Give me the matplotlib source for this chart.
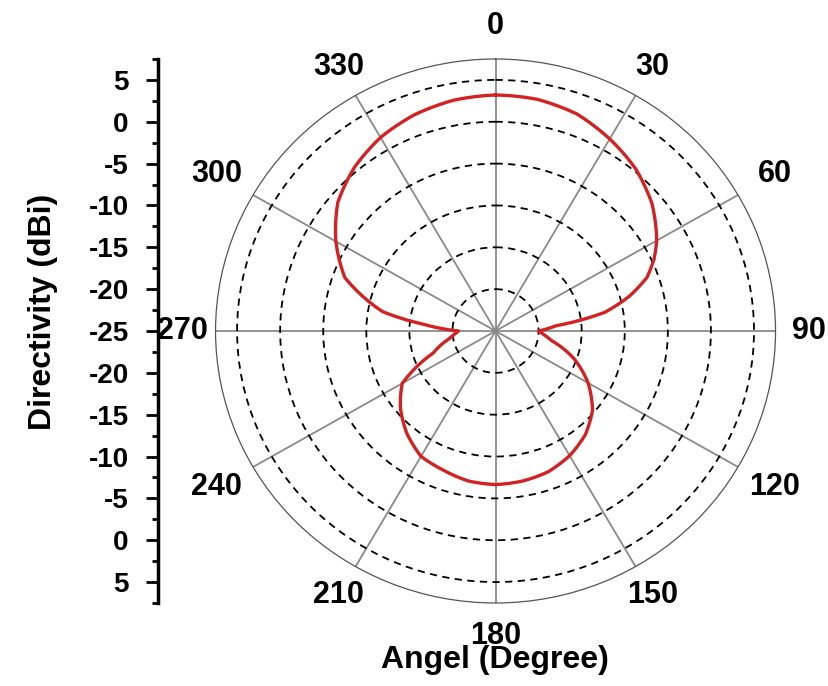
import numpy as np
import matplotlib
matplotlib.use("Agg")
import matplotlib.pyplot as plt
from matplotlib.ticker import FixedLocator, MultipleLocator

# Directivity pattern (angle in degrees, value in dBi).
angles = [0, 10, 20, 30, 40, 50, 60, 65, 70, 75, 80, 85, 90, 95, 100, 110,
          120, 130, 140, 150, 160, 170, 180, 190, 200, 210, 220, 230, 240,
          250, 260, 265, 270, 275, 280, 290, 300, 310, 320, 330, 340, 350, 360]
directivity = [3.2, 3.1, 2.6, 1.5, 0.3, -1.3, -3.4, -4.7, -6.3, -8.9, -12.1,
               -18.0, -20.0, -19.3, -18.4, -15.3, -12.6, -10.3, -8.8, -7.8,
               -7.1, -6.8, -6.65, -6.8, -7.3, -7.7, -9.0, -10.6, -12.5, -17.3,
               -19.5, -20.2, -20.7, -17.0, -11.7, -6.4, -3.6, -1.1, 0.5, 1.7,
               2.5, 3.0, 3.2]

angle_ticks = list(range(0, 360, 30))
ring_levels = [-20, -15, -10, -5, 0, 5]
r_min, r_max = -25, 7.5
side_levels = [5, 0, -5, -10, -15, -20, -25, -20, -15, -10, -5, 0, 5]

plt.rcParams["font.family"] = ["Liberation Sans", "DejaVu Sans"]
plt.rcParams["font.weight"] = "bold"

fig = plt.figure(figsize=(8.29, 6.86), dpi=100)
ax = fig.add_axes([0.26, 0.121, 0.6755, 0.793], projection="polar")
ax.set_aspect("auto")
ax.set_theta_zero_location("N")
ax.set_theta_direction(-1)
ax.set_ylim(r_min, r_max)

line, = ax.plot(np.deg2rad(angles), directivity, color="#d42222", lw=2.4, zorder=5)
line.get_path()._interpolation_steps = 12  # draw segments as arcs in polar space

# rings and spokes
ax.set_yticks(ring_levels)
ax.set_yticklabels([])
ax.yaxis.grid(True, color="black", ls=(0, (4, 3)), lw=1.3)
ax.set_xticks(np.deg2rad(angle_ticks))
ax.set_xticklabels([])
ax.xaxis.grid(True, color="#8a8a8a", ls="-", lw=1.3)
ax.xaxis.set_minor_locator(FixedLocator(np.deg2rad(np.arange(15, 360, 30))))
ax.tick_params(axis="x", which="major", length=0)
ax.tick_params(axis="x", which="minor", direction="in", length=5, color="#555555")
ax.spines["polar"].set_linewidth(0.9)
ax.spines["polar"].set_color("#555555")

# angle labels outside the rim (side ones a bit further out, they are wide)
for a in angle_ticks:
    gap = 4.9 if a % 180 in (60, 120) else 3.9
    ax.text(np.deg2rad(a), r_max + gap, str(a), ha="center", va="center",
            fontsize=22, fontweight="bold", clip_on=False)

# left mirrored radial scale
side = fig.add_axes([158 / 829, 0.121, 0.0005, 0.793])
span = r_max - r_min
side.set_ylim(-span, span)
side_pos = [lvl - r_min if i < 6 else -(lvl - r_min) for i, lvl in enumerate(side_levels)]
side.set_yticks(side_pos)
side.set_yticklabels([str(v) for v in side_levels], fontsize=20, fontweight="bold")
side.yaxis.set_minor_locator(MultipleLocator(2.5))
side.tick_params(axis="y", which="major", length=9, width=2, pad=12)
side.tick_params(axis="y", which="minor", length=4.5, width=2)
side.set_xticks([])
for s in ["top", "right", "bottom"]:
    side.spines[s].set_visible(False)
side.spines["left"].set_linewidth(2.5)
side.patch.set_alpha(0)

fig.text(43 / 829, 1 - 312 / 686, "Directivity (dBi)", rotation=90,
         ha="center", va="center", fontsize=23, fontweight="bold")
fig.text(495 / 829, 1 - 660 / 686, "Angel (Degree)", ha="center", va="center",
         fontsize=23, fontweight="bold")

fig.savefig("out.png", dpi=100)
